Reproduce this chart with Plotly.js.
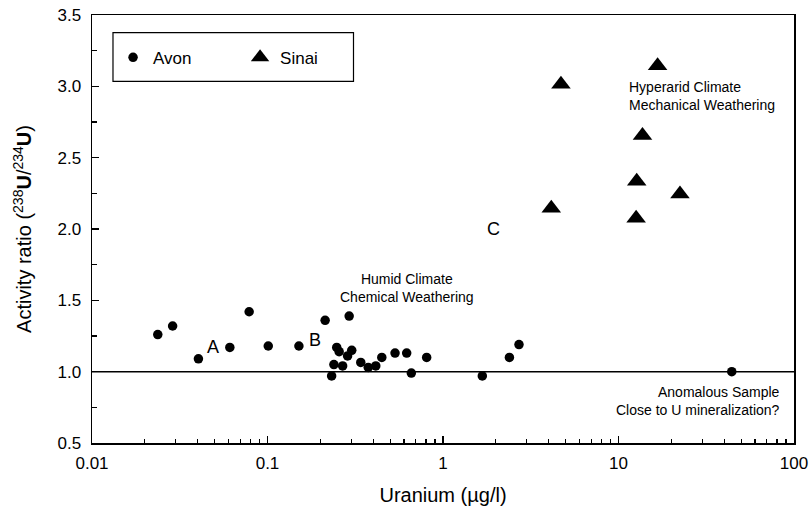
<!DOCTYPE html>
<html>
<head>
<meta charset="utf-8">
<script src="https://cdn.plot.ly/plotly-3.0.1.min.js"></script>
<style>html,body{margin:0;padding:0;background:#fff;}#chart{width:811px;height:511px;}</style>
</head>
<body>
<div id="chart"></div>
<script>
// Avon samples
var avonU = [0.0237, 0.0288, 0.0404, 0.061, 0.0786, 0.101, 0.151, 0.213, 0.292, 0.248, 0.256, 0.302, 0.286, 0.239, 0.268, 0.232, 0.340, 0.375, 0.414, 0.448, 0.533, 0.621, 0.660, 0.807, 1.675, 2.39, 2.71, 44.2];
var avonAR = [1.26, 1.32, 1.09, 1.17, 1.42, 1.18, 1.18, 1.36, 1.39, 1.17, 1.14, 1.15, 1.11, 1.05, 1.04, 0.97, 1.065, 1.03, 1.04, 1.10, 1.13, 1.13, 0.99, 1.10, 0.97, 1.10, 1.19, 1.00];
// Sinai samples
var sinaiU = [16.7, 4.70, 13.7, 12.7, 22.4, 4.14, 12.6];
var sinaiAR = [3.145, 3.015, 2.655, 2.335, 2.245, 2.145, 2.075];
// Axis ticks
var xTickVals = [0.01, 0.1, 1, 10, 100];
var xTickText = ['0.01', '0.1', '1', '10', '100'];
var yTickVals = [0.5, 1.0, 1.5, 2.0, 2.5, 3.0, 3.5];
var yTickText = ['0.5', '1.0', '1.5', '2.0', '2.5', '3.0', '3.5'];
var refLine = 1.0;

var FONT = 'Liberation Sans, Arial, sans-serif';

var traces = [
  {x: avonU, y: avonAR, name: 'Avon', type: 'scatter', mode: 'markers',
   marker: {symbol: 'circle', size: 9.5, color: '#000'}},
  {x: sinaiU, y: sinaiAR, name: 'Sinai', type: 'scatter', mode: 'markers',
   marker: {symbol: 'triangle-up', size: 17, color: '#000'}}
];

var layout = {
  width: 811, height: 511,
  margin: {l: 92, r: 17, t: 14.5, b: 67.5},
  paper_bgcolor: '#fff', plot_bgcolor: '#fff',
  font: {family: FONT, color: '#000', size: 15},
  showlegend: true,
  legend: {orientation: 'h', x: 0.03, xanchor: 'left', y: 0.9, yanchor: 'middle',
           bgcolor: 'rgba(0,0,0,0)', borderwidth: 0, font: {size: 17, family: FONT},
           entrywidth: 82, entrywidthmode: 'pixels'},
  xaxis: {type: 'log', range: [-2, 2], tickvals: xTickVals, ticktext: xTickText,
          ticks: 'inside', ticklen: 7, tickwidth: 1.2, tickcolor: '#000',
          minor: {ticks: 'inside', ticklen: 4, tickcolor: '#000', dtick: 'D1', showgrid: false},
          showline: true, linecolor: '#000', linewidth: 1.5, mirror: true,
          showgrid: false, zeroline: false, ticklabelstandoff: 4,
          tickfont: {size: 17, family: FONT},
          title: {text: 'Uranium (\u00b5g/l)', font: {size: 20, family: FONT}, standoff: 16}},
  yaxis: {range: [0.5, 3.5], tickvals: yTickVals, ticktext: yTickText,
          ticks: 'inside', ticklen: 7, tickwidth: 1.2, tickcolor: '#000',
          minor: {ticks: 'inside', ticklen: 5, tickcolor: '#000', dtick: 0.25, showgrid: false},
          showline: true, linecolor: '#000', linewidth: 1.5, mirror: true,
          showgrid: false, zeroline: false, ticklabelstandoff: 6,
          tickfont: {size: 17, family: FONT},
          title: {text: 'Activity ratio (<sup>238</sup><b>U</b>/<sup>234</sup><b>U</b>)', font: {size: 20, family: FONT}, standoff: 20}},
  shapes: [
    {type: 'line', xref: 'paper', yref: 'y', x0: 0, x1: 1, y0: refLine, y1: refLine,
     line: {color: '#000', width: 1.5}},
    {type: 'rect', xref: 'paper', yref: 'paper', x0: 0.0299, x1: 0.3725, y0: 0.845, y1: 0.959,
     line: {color: '#000', width: 1.2}, fillcolor: 'rgba(0,0,0,0)'}
  ],
  annotations: [
    {x: -1.311, y: 1.175, xref: 'x', yref: 'y', text: 'A', showarrow: false, font: {size: 18}},
    {x: -0.729, y: 1.22, xref: 'x', yref: 'y', text: 'B', showarrow: false, font: {size: 18}},
    {x: 0.285, y: 2.0, xref: 'x', yref: 'y', text: 'C', showarrow: false, font: {size: 18}},
    {x: -0.205, y: 1.584, xref: 'x', yref: 'y', text: 'Humid Climate<br>Chemical Weathering',
     showarrow: false, align: 'center', xanchor: 'center', yanchor: 'middle', font: {size: 14}},
    {x: 1.048, y: 2.93, xref: 'x', yref: 'y', text: 'Hyperarid Climate<br>Mechanical Weathering',
     showarrow: false, align: 'left', xanchor: 'left', yanchor: 'middle', font: {size: 14}},
    {x: 1.932, y: 0.797, xref: 'x', yref: 'y', text: 'Anomalous Sample<br>Close to U mineralization?',
     showarrow: false, align: 'right', xanchor: 'right', yanchor: 'middle', font: {size: 14}}
  ]
};

Plotly.newPlot('chart', traces, layout, {displayModeBar: false, staticPlot: true});
</script>
</body>
</html>
